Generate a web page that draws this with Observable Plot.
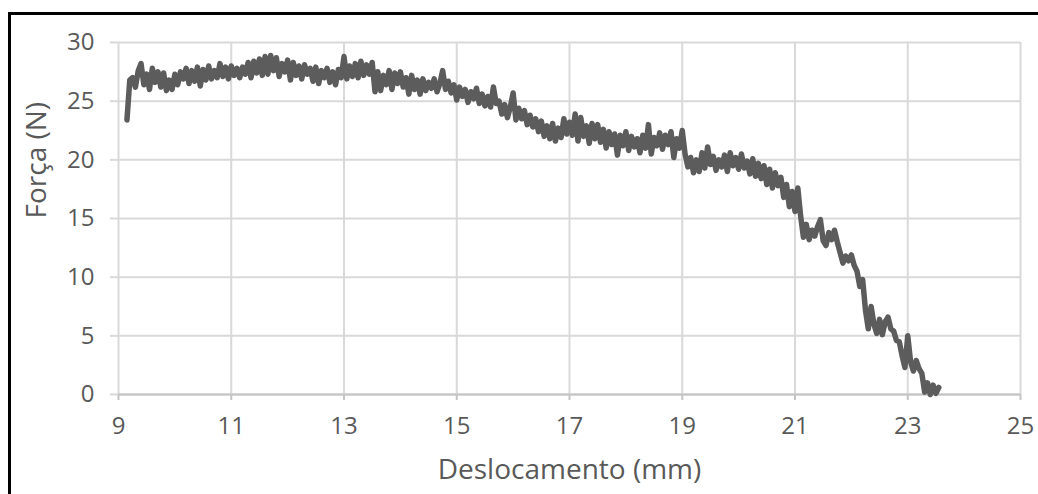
<!DOCTYPE html>
<html><head><meta charset="utf-8">
<script src="https://cdn.jsdelivr.net/npm/d3@7"></script>
<script src="https://cdn.jsdelivr.net/npm/@observablehq/plot@0.6"></script>
<style>body{margin:0;background:#fff;overflow:hidden}</style>
</head><body><div id="chart"></div>
<script>
const displacement = [
  9.15,9.2,9.25,9.3,9.35,9.4,9.45,9.5,9.55,9.6,9.65,9.7,9.75,9.8,9.85,9.9,9.95,
  10,10.05,10.1,10.15,10.2,10.25,10.3,10.35,10.4,10.45,10.5,10.55,10.6,10.65,10.7,10.75,10.8,10.85,10.9,10.95,
  11,11.05,11.1,11.15,11.2,11.25,11.3,11.35,11.4,11.45,11.5,11.55,11.6,11.65,11.7,11.75,11.8,11.85,11.9,11.95,
  12,12.05,12.1,12.15,12.2,12.25,12.3,12.35,12.4,12.45,12.5,12.55,12.6,12.65,12.7,12.75,12.8,12.85,12.9,12.95,
  13,13.05,13.1,13.15,13.2,13.25,13.3,13.35,13.4,13.45,13.5,13.55,13.6,13.65,13.7,13.75,13.8,13.85,13.9,13.95,
  14,14.05,14.1,14.15,14.2,14.25,14.3,14.35,14.4,14.45,14.5,14.55,14.6,14.65,14.7,14.75,14.8,14.85,14.9,14.95,
  15,15.05,15.1,15.15,15.2,15.25,15.3,15.35,15.4,15.45,15.5,15.55,15.6,15.65,15.7,15.75,15.8,15.85,15.9,15.95,
  16,16.05,16.1,16.15,16.2,16.25,16.3,16.35,16.4,16.45,16.5,16.55,16.6,16.65,16.7,16.75,16.8,16.85,16.9,16.95,
  17,17.05,17.1,17.15,17.2,17.25,17.3,17.35,17.4,17.45,17.5,17.55,17.6,17.65,17.7,17.75,17.8,17.85,17.9,17.95,
  18,18.05,18.1,18.15,18.2,18.25,18.3,18.35,18.4,18.45,18.5,18.55,18.6,18.65,18.7,18.75,18.8,18.85,18.9,18.95,
  19,19.05,19.1,19.15,19.2,19.25,19.3,19.35,19.4,19.45,19.5,19.55,19.6,19.65,19.7,19.75,19.8,19.85,19.9,19.95,
  20,20.05,20.1,20.15,20.2,20.25,20.3,20.35,20.4,20.45,20.5,20.55,20.6,20.65,20.7,20.75,20.8,20.85,20.9,20.95,
  21,21.05,21.1,21.15,21.2,21.25,21.3,21.35,21.4,21.45,21.5,21.55,21.6,21.65,21.7,21.75,21.8,21.85,21.9,21.95,
  22,22.05,22.1,22.15,22.2,22.25,22.3,22.35,22.4,22.45,22.5,22.55,22.6,22.65,22.7,22.75,22.8,22.85,22.9,22.95,
  23,23.05,23.1,23.15,23.2,23.25,23.3,23.35,23.4,23.45,23.5,23.55
];
const force = [
  23.4,26.8,27.0,26.2,27.6,28.2,26.4,27.3,26.0,27.8,26.6,27.5,26.2,27.4,25.9,26.8,26.0,
  27.3,26.4,27.5,26.9,27.8,26.5,27.6,26.7,27.9,26.3,27.7,26.8,28.0,26.9,27.6,27.0,28.2,27.1,27.9,26.9,
  28.0,27.2,27.8,27.0,27.9,27.3,28.3,27.0,28.4,27.4,28.6,27.2,28.8,27.3,28.9,27.6,28.7,27.1,28.2,27.5,
  28.5,26.8,28.3,27.2,28.0,26.9,28.1,27.3,27.8,26.7,27.9,26.5,27.6,27.0,27.8,26.6,27.5,26.4,27.7,27.0,
  28.8,26.9,28.0,27.1,28.2,27.0,28.4,27.2,28.1,27.3,28.3,25.8,27.5,25.9,27.2,26.4,27.6,26.0,27.4,26.5,
  27.5,26.2,27.0,25.6,27.2,26.0,26.8,25.6,26.9,25.9,26.6,26.1,26.9,25.8,26.5,27.6,26.0,26.7,25.7,26.4,
  25.1,26.2,25.4,26.0,24.9,25.8,25.2,26.1,24.8,25.6,24.6,25.4,24.5,26.2,24.8,25.0,23.9,24.7,23.6,24.5,
  25.7,23.4,24.4,23.5,24.2,23.0,23.8,22.8,23.5,22.4,23.3,22.0,22.9,21.8,23.1,21.6,22.7,21.9,23.5,22.2,
  23.2,22.1,23.9,21.6,23.6,22.0,22.9,21.4,23.1,21.8,23.0,21.5,22.6,21.0,22.4,21.3,22.2,20.4,22.1,21.2,
  22.4,20.8,22.0,21.1,21.8,20.6,22.1,21.0,23.0,20.5,21.9,21.2,22.3,20.9,22.1,21.3,22.4,20.2,21.8,21.0,
  22.5,20.5,19.4,20.2,18.9,20.0,19.0,20.6,19.3,21.1,19.6,20.3,19.1,20.0,19.4,20.4,19.0,20.6,19.5,20.2,
  19.2,20.5,19.3,19.9,18.8,20.1,18.6,19.7,18.4,19.5,17.9,19.2,17.6,18.9,17.8,18.5,16.8,17.9,16.0,17.3,
  15.6,17.6,15.2,13.4,14.5,13.2,14.0,13.5,14.3,14.9,13.1,12.7,13.8,13.2,14.0,13.0,12.1,11.2,11.8,11.4,
  11.9,11.0,10.5,9.2,9.8,7.2,5.6,7.5,6.0,5.2,6.4,5.1,6.2,6.6,5.6,5.4,4.6,4.5,3.3,2.3,
  5.0,2.8,2.0,2.9,2.2,1.8,0.2,1.0,0.0,0.8,0.1,0.6
];
const xTicks = [9, 11, 13, 15, 17, 19, 21, 23, 25];
const yTicks = [0, 5, 10, 15, 20, 25, 30];
const xLabel = "Deslocamento (mm)";
const yLabel = "Força (N)";

const data = displacement.map((d, i) => ({x: d, y: force[i]}));
const gridColor = "#d9d9d9";
const axisColor = "#c4c4c4";
const textColor = "#595959";

const border = () => d3.create("svg:path")
  .attr("d", "M9.5,500V13.5H1045")
  .attr("fill", "none")
  .attr("stroke", "#000")
  .attr("stroke-width", 3)
  .node();

const chart = Plot.plot({
  width: 1038,
  height: 494,
  marginLeft: 118,
  marginRight: 18,
  marginTop: 42,
  marginBottom: 100,
  style: {fontFamily: "'Open Sans', sans-serif", background: "#fff", overflow: "visible"},
  x: {domain: [9, 25]},
  y: {domain: [0, 30]},
  marks: [
    Plot.gridX(xTicks, {stroke: gridColor, strokeOpacity: 1, strokeWidth: 2}),
    Plot.gridY(yTicks, {stroke: gridColor, strokeOpacity: 1, strokeWidth: 2}),
    Plot.axisX(xTicks, {tickSize: 6, stroke: axisColor, strokeWidth: 2, fill: textColor, fontSize: 24, tickPadding: 16, label: null, tickFormat: d => String(d)}),
    Plot.axisY(yTicks, {tickSize: 8, stroke: gridColor, strokeWidth: 2, fill: textColor, fontSize: 24, tickPadding: 16, label: null, tickFormat: d => String(d)}),
    Plot.ruleY([0], {stroke: axisColor, strokeWidth: 2}),
    Plot.line(data, {x: "x", y: "y", stroke: "#5c5c5c", strokeWidth: 5.5, strokeLinejoin: "round", strokeLinecap: "round"}),
    Plot.text([xLabel], {text: d => d, frameAnchor: "bottom", dy: 84, fontSize: 28, fill: textColor}),
    Plot.text([yLabel], {text: d => d, frameAnchor: "left", dx: -81, rotate: -90, fontSize: 28, fill: textColor}),
    border
  ]
});
document.getElementById("chart").appendChild(chart);
</script>
</body></html>
